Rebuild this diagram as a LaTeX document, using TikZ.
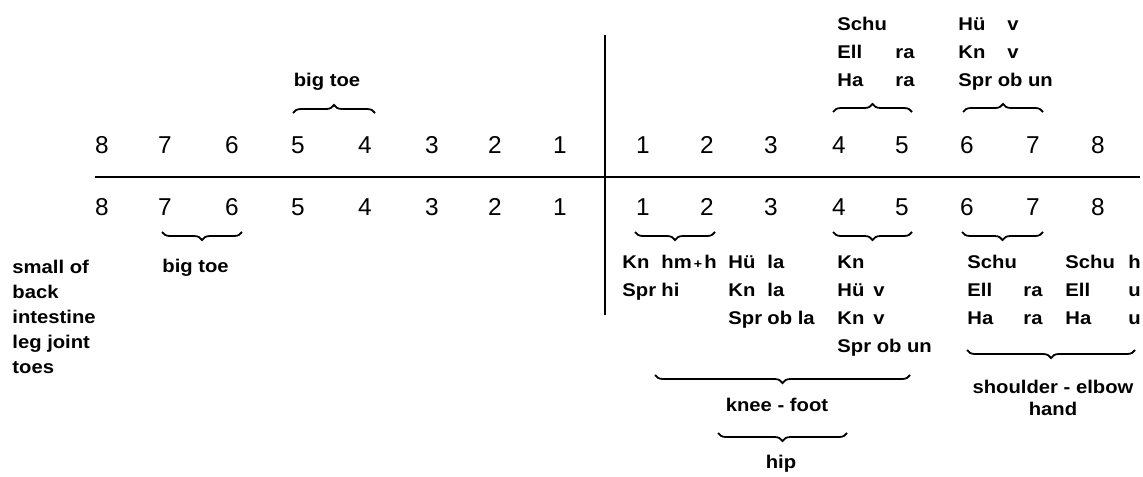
\documentclass[tikz,border=0pt]{standalone}
\usepackage{fontspec}
\setmainfont{Liberation Sans}
\newfontfamily\lblfont[FakeStretch=1.1]{Liberation Sans Bold}
\usetikzlibrary{decorations.pathreplacing}
\setlength{\tabcolsep}{0pt}
\tikzset{
  num/.style={font=\fontsize{12.2}{14}\selectfont, inner sep=0pt, anchor=base},
  lbl/.style={font=\lblfont\fontsize{9.2}{14}\selectfont, inner sep=0pt, anchor=base west},
  brc/.style={decorate, decoration={brace, amplitude=4pt}, line width=0.9pt},
  brcdown/.style={decorate, decoration={brace, mirror, amplitude=4pt}, line width=0.9pt},
}
\begin{document}
\begin{tikzpicture}[x=0.5pt, y=-0.5pt]
  \useasboundingbox (0,0) rectangle (1143,476);

  % axes
  \coordinate (hl) at (95,177);
  \coordinate (hr) at (1140,177);
  \coordinate (vt) at (605,35);
  \coordinate (vb) at (605,315);
  \draw[line width=1.3pt] (hl) -- (hr);
  \draw[line width=0.8pt] (vt) -- (vb);

  % upper teeth
  \node[num] (TL8) at (102,153) {8};
  \node[num] (TL7) at (165,153) {7};
  \node[num] (TL6) at (232,153) {6};
  \node[num] (TL5) at (298,153) {5};
  \node[num] (TL4) at (365,153) {4};
  \node[num] (TL3) at (432,153) {3};
  \node[num] (TL2) at (495,153) {2};
  \node[num] (TL1) at (560,153) {1};
  \node[num] (TR1) at (643,153) {1};
  \node[num] (TR2) at (707,153) {2};
  \node[num] (TR3) at (771,153) {3};
  \node[num] (TR4) at (839,153) {4};
  \node[num] (TR5) at (902,153) {5};
  \node[num] (TR6) at (967,153) {6};
  \node[num] (TR7) at (1033,153) {7};
  \node[num] (TR8) at (1098,153) {8};

  % lower teeth
  \node[num] (BL8) at (102,215) {8};
  \node[num] (BL7) at (165,215) {7};
  \node[num] (BL6) at (232,215) {6};
  \node[num] (BL5) at (298,215) {5};
  \node[num] (BL4) at (365,215) {4};
  \node[num] (BL3) at (432,215) {3};
  \node[num] (BL2) at (495,215) {2};
  \node[num] (BL1) at (560,215) {1};
  \node[num] (BR1) at (643,215) {1};
  \node[num] (BR2) at (707,215) {2};
  \node[num] (BR3) at (771,215) {3};
  \node[num] (BR4) at (839,215) {4};
  \node[num] (BR5) at (902,215) {5};
  \node[num] (BR6) at (967,215) {6};
  \node[num] (BR7) at (1033,215) {7};
  \node[num] (BR8) at (1098,215) {8};

  % braces above
  \coordinate (ua1) at (293,113);  \coordinate (ua2) at (375,113);
  \coordinate (ub1) at (833,112);  \coordinate (ub2) at (912,112);
  \coordinate (uc1) at (963,112);  \coordinate (uc2) at (1043,112);
  \draw[brc] (ua1) -- (ua2);
  \draw[brc] (ub1) -- (ub2);
  \draw[brc] (uc1) -- (uc2);

  % braces below
  \coordinate (la1) at (162,232);  \coordinate (la2) at (242,232);
  \coordinate (lb1) at (635,232);  \coordinate (lb2) at (715,232);
  \coordinate (lc1) at (833,232);  \coordinate (lc2) at (912,232);
  \coordinate (ld1) at (962,232);  \coordinate (ld2) at (1043,232);
  \coordinate (kf1) at (655,375);  \coordinate (kf2) at (910,375);
  \coordinate (hp1) at (718,433);  \coordinate (hp2) at (847,433);
  \coordinate (sh1) at (967,350);  \coordinate (sh2) at (1135,350);
  \draw[brcdown] (la1) -- (la2);
  \draw[brcdown] (lb1) -- (lb2);
  \draw[brcdown] (lc1) -- (lc2);
  \draw[brcdown] (ld1) -- (ld2);
  \draw[brcdown] (kf1) -- (kf2);
  \draw[brcdown] (hp1) -- (hp2);
  \draw[brcdown] (sh1) -- (sh2);

  % labels above
  \node[lbl, anchor=base] (toeup) at (327,87) {big toe};
  \node[lbl] (upfour) at (837,31)
    {\begin{tabular}[t]{@{}p{29pt}l@{}}Schu&\\Ell&ra\\Ha&ra\end{tabular}};
  \node[lbl] (upsix) at (958,31)
    {\begin{tabular}[t]{@{}p{24.5pt}l@{}}Hü&v\\Kn&v\\\multicolumn{2}{@{}l@{}}{Spr ob un}\end{tabular}};

  % labels below
  \node[lbl] (organs) at (12,273)
    {\fontsize{9.2}{12.5}\selectfont\begin{tabular}[t]{@{}l@{}}small of\\back\\intestine\\leg joint\\toes\end{tabular}};
  \node[lbl] (toelow) at (162,272) {big toe};
  \node[lbl] (lowone) at (622,268)
    {\begin{tabular}[t]{@{}p{19.5pt}l@{}}Kn&hm{\fontsize{6.5}{7}\selectfont\,+\,}h\\Spr&hi\end{tabular}};
  \node[lbl] (lowthree) at (728,268)
    {\begin{tabular}[t]{@{}p{19.5pt}l@{}}Hü&la\\Kn&la\\Spr&ob la\end{tabular}};
  \node[lbl] (lowfour) at (837,268)
    {\begin{tabular}[t]{@{}p{18pt}l@{}}Kn&\\Hü&v\\Kn&v\\\multicolumn{2}{@{}l@{}}{Spr ob un}\end{tabular}};
  \node[lbl] (lowsix) at (967,268)
    {\begin{tabular}[t]{@{}p{28pt}l@{}}Schu&\\Ell&ra\\Ha&ra\end{tabular}};
  \node[lbl] (loweight) at (1065,268)
    {\begin{tabular}[t]{@{}p{31.5pt}l@{}}Schu&h\\Ell&u\\Ha&u\end{tabular}};
  \node[lbl, anchor=base] (knee) at (777,411) {knee - foot};
  \node[lbl, anchor=base] (hip) at (781,468) {hip};
  \node[lbl, anchor=base] (shoulder) at (1053,393)
    {\fontsize{9.2}{11}\selectfont\begin{tabular}[t]{@{}c@{}}shoulder - elbow\\hand\end{tabular}};
\end{tikzpicture}
\end{document}
